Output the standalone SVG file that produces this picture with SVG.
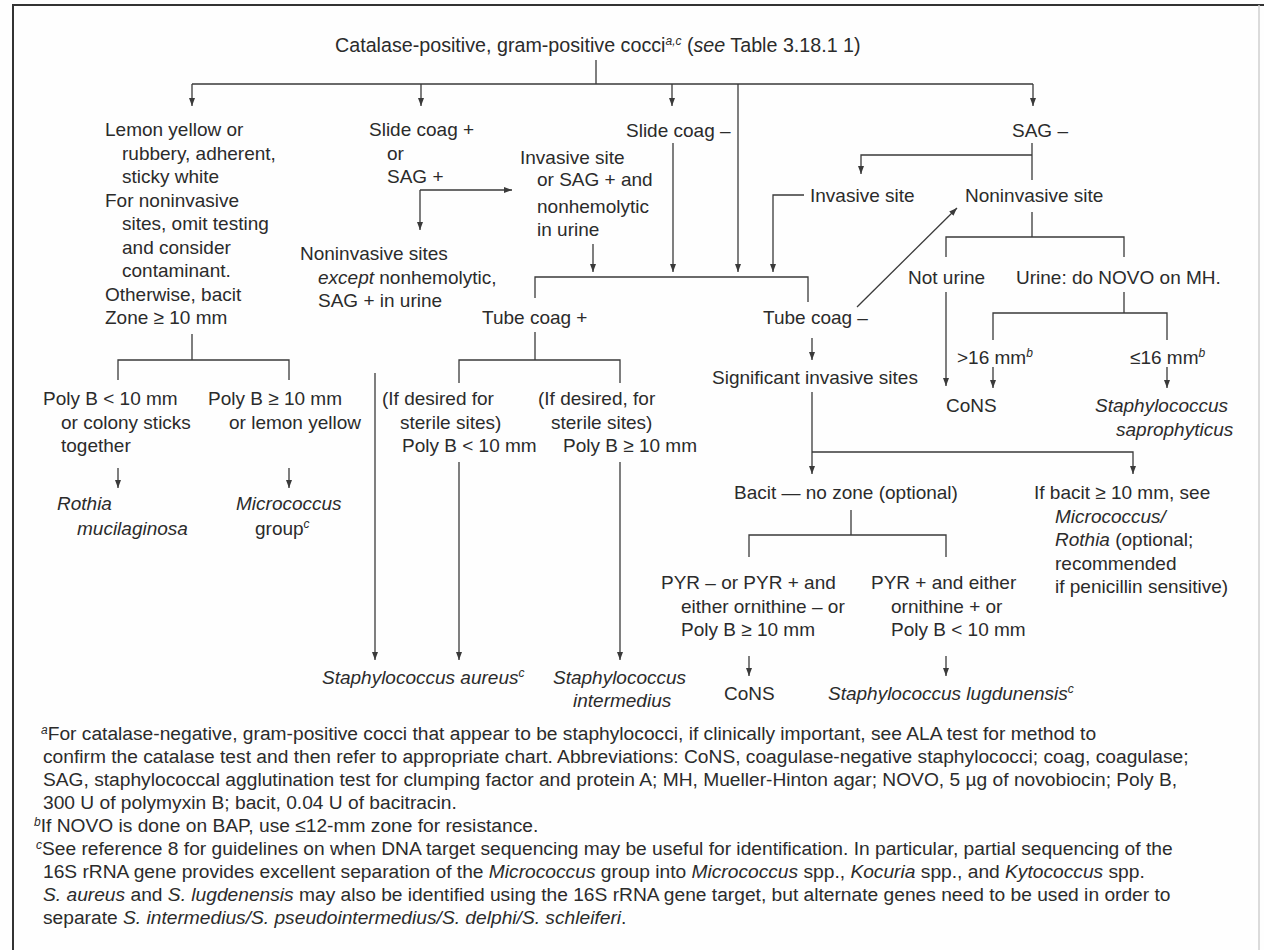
<svg xmlns="http://www.w3.org/2000/svg" width="1264" height="950" viewBox="0 0 1264 950">
<style>
text { font-family: "Liberation Sans", Arial, sans-serif; font-size: 19px; fill: #2b2b2b; }
.title { font-size: 19.7px; }
.fn { font-size: 19.2px; }
.it { font-style: italic; }
.sup { font-size: 12px; }
.c { stroke: #3a3a3a; stroke-width: 1.3; fill: none; }
.a { marker-end: url(#ah); }
.frame { stroke: #333; stroke-width: 2; fill: none; }
</style>
<defs>
<marker id="ah" viewBox="0 0 8 6" refX="8" refY="3" markerWidth="8" markerHeight="6" markerUnits="userSpaceOnUse" orient="auto">
<path d="M0,0 L8,3 L0,6 z" fill="#3a3a3a"/>
</marker>
</defs>
<rect width="1264" height="950" fill="#fefefe"/>
<path class="frame" d="M13,950 V5 H1264"/>
<path d="M1259,5 V950" stroke="#cfcfcf" stroke-width="1.5" fill="none"/>

<g id="connectors">
<path class="c" d="M596,60 V84 M192,84 H1033"/>
<path class="c a" d="M192,84 V106"/>
<path class="c a" d="M421,84 V106"/>
<path class="c a" d="M672,84 V106"/>
<path class="c a" d="M1033,84 V106"/>
<path class="c a" d="M738,84 V272"/>
<path class="c" d="M192,334 V360 M118,380 V360 H289 V380"/>
<path class="c a" d="M118,468 V488"/>
<path class="c a" d="M289,468 V488"/>
<path class="c a" d="M420,190 H512"/>
<path class="c a" d="M420,190 V230"/>
<path class="c a" d="M375,373 V660"/>
<path class="c a" d="M673,143 V272"/>
<path class="c a" d="M593,244 V272"/>
<path class="c a" d="M804,195 H773 V272"/>
<path class="c" d="M535,298 V277 H808 V302"/>
<path class="c" d="M535,332 V360 M459,383 V360 H620 V383"/>
<path class="c a" d="M459,462 V660"/>
<path class="c a" d="M620,462 V660"/>
<path class="c" d="M1032,143 V180"/>
<path class="c a" d="M1032,155 H861 V174"/>
<path class="c" d="M1032,212 V237 M946,257 V237 H1124 V257"/>
<path class="c a" d="M946,292 V386"/>
<path class="c" d="M1124,292 V313 M993,340 V313 H1167 V340"/>
<path class="c a" d="M993,367 V388"/>
<path class="c a" d="M1167,367 V388"/>
<path class="c a" d="M857,307 L957,208"/>
<path class="c a" d="M812,338 V360"/>
<path class="c a" d="M812,392 V474"/>
<path class="c a" d="M812,452 H1133 V474"/>
<path class="c" d="M851,510 V535 M749,557 V535 H946 V557"/>
<path class="c a" d="M749,656 V676"/>
<path class="c a" d="M946,656 V676"/>
</g>

<g id="n-root">
<text class="title" x="335" y="52">Catalase-positive, gram-positive cocci<tspan class="sup it" dy="-7">a,c</tspan><tspan dy="7"> (</tspan><tspan class="it">see</tspan> Table 3.18.1 1)</text>
</g>

<g id="n-lemon">
<text x="105" y="136">Lemon yellow or</text>
<text x="122" y="159.5">rubbery, adherent,</text>
<text x="122" y="183">sticky white</text>
<text x="105" y="206.5">For noninvasive</text>
<text x="122" y="230">sites, omit testing</text>
<text x="122" y="253.5">and consider</text>
<text x="122" y="277">contaminant.</text>
<text x="105" y="300.5">Otherwise, bacit</text>
<text x="105" y="324">Zone ≥ 10 mm</text>
</g>
<g id="n-polyb-lt">
<text x="43" y="405">Poly B &lt; 10 mm</text>
<text x="61" y="428.5">or colony sticks</text>
<text x="61" y="452">together</text>
</g>
<g id="n-polyb-ge">
<text x="208" y="405">Poly B ≥ 10 mm</text>
<text x="229" y="428.5">or lemon yellow</text>
</g>
<g id="n-rothia">
<text class="it" x="57" y="510">Rothia</text>
<text class="it" x="77" y="535">mucilaginosa</text>
</g>
<g id="n-micrococcus">
<text class="it" x="236" y="510">Micrococcus</text>
<text x="255" y="535">group<tspan class="sup it" dy="-7">c</tspan></text>
</g>

<g id="n-slide-pos">
<text x="369" y="136">Slide coag +</text>
<text x="387" y="159.5">or</text>
<text x="387" y="183">SAG +</text>
</g>
<g id="n-noninv-sites">
<text x="300" y="260">Noninvasive sites</text>
<text x="318" y="284"><tspan class="it">except</tspan> nonhemolytic,</text>
<text x="318" y="307">SAG + in urine</text>
</g>
<g id="n-invasive-mid">
<text x="520" y="164">Invasive site</text>
<text x="537" y="186">or SAG + and</text>
<text x="537" y="213">nonhemolytic</text>
<text x="537" y="236">in urine</text>
</g>
<g id="n-slide-neg">
<text x="626" y="137">Slide coag –</text>
</g>
<g id="n-tube-pos">
<text x="482" y="324">Tube coag +</text>
</g>
<g id="n-desired-lt">
<text x="382" y="405">(If desired for</text>
<text x="400" y="428.5">sterile sites)</text>
<text x="402" y="452">Poly B &lt; 10 mm</text>
</g>
<g id="n-desired-ge">
<text x="538" y="405">(If desired, for</text>
<text x="551" y="428.5">sterile sites)</text>
<text x="563" y="452">Poly B ≥ 10 mm</text>
</g>
<g id="n-aureus">
<text class="it" x="322" y="684">Staphylococcus aureus<tspan class="sup" dy="-7">c</tspan></text>
</g>
<g id="n-intermedius">
<text class="it" x="553" y="684">Staphylococcus</text>
<text class="it" x="573" y="707">intermedius</text>
</g>

<g id="n-tube-neg">
<text x="763" y="324">Tube coag –</text>
</g>
<g id="n-sig-invasive">
<text x="712" y="384">Significant invasive sites</text>
</g>
<g id="n-bacit-nozone">
<text x="734" y="499">Bacit — no zone (optional)</text>
</g>
<g id="n-pyr-neg">
<text x="661" y="589">PYR – or PYR + and</text>
<text x="681" y="612.5">either ornithine – or</text>
<text x="681" y="636">Poly B ≥ 10 mm</text>
</g>
<g id="n-pyr-pos">
<text x="871" y="589">PYR + and either</text>
<text x="891" y="612.5">ornithine + or</text>
<text x="891" y="636">Poly B &lt; 10 mm</text>
</g>
<g id="n-cons-bottom">
<text x="724" y="700">CoNS</text>
</g>
<g id="n-lugdunensis">
<text class="it" x="828" y="700">Staphylococcus lugdunensis<tspan class="sup" dy="-7">c</tspan></text>
</g>
<g id="n-bacit-ge">
<text x="1034" y="499">If bacit ≥ 10 mm, see</text>
<text class="it" x="1055" y="522.5">Micrococcus/</text>
<text x="1055" y="546"><tspan class="it">Rothia</tspan> (optional;</text>
<text x="1055" y="569.5">recommended</text>
<text x="1055" y="593">if penicillin sensitive)</text>
</g>

<g id="n-sag-neg">
<text x="1012" y="137">SAG –</text>
</g>
<g id="n-invasive-right">
<text x="810" y="202">Invasive site</text>
</g>
<g id="n-noninv-site">
<text x="965" y="202">Noninvasive site</text>
</g>
<g id="n-not-urine">
<text x="908" y="284">Not urine</text>
</g>
<g id="n-urine">
<text x="1016" y="284">Urine: do NOVO on MH.</text>
</g>
<g id="n-gt16">
<text x="957" y="364">&gt;16 mm<tspan class="sup it" dy="-7">b</tspan></text>
</g>
<g id="n-le16">
<text x="1130" y="364">≤16 mm<tspan class="sup it" dy="-7">b</tspan></text>
</g>
<g id="n-cons-right">
<text x="946" y="412">CoNS</text>
</g>
<g id="n-saprophyticus">
<text class="it" x="1095" y="412">Staphylococcus</text>
<text class="it" x="1116" y="436">saprophyticus</text>
</g>

<g id="footnotes">
<text class="fn" x="41" y="740"><tspan class="sup it" dy="-6">a</tspan><tspan dy="6">For catalase-negative, gram-positive cocci that appear to be staphylococci, if clinically important, see ALA test for method to</tspan></text>
<text class="fn" x="43" y="763">confirm the catalase test and then refer to appropriate chart. Abbreviations: CoNS, coagulase-negative staphylococci; coag, coagulase;</text>
<text class="fn" x="43" y="786">SAG, staphylococcal agglutination test for clumping factor and protein A; MH, Mueller-Hinton agar; NOVO, 5 µg of novobiocin; Poly B,</text>
<text class="fn" x="43" y="809">300 U of polymyxin B; bacit, 0.04 U of bacitracin.</text>
<text class="fn" x="34" y="832"><tspan class="sup it" dy="-6">b</tspan><tspan dy="6">If NOVO is done on BAP, use ≤12-mm zone for resistance.</tspan></text>
<text class="fn" x="36" y="855"><tspan class="sup it" dy="-6">c</tspan><tspan dy="6">See reference 8 for guidelines on when DNA target sequencing may be useful for identification. In particular, partial sequencing of the</tspan></text>
<text class="fn" x="43" y="878">16S rRNA gene provides excellent separation of the <tspan class="it">Micrococcus</tspan> group into <tspan class="it">Micrococcus</tspan> spp., <tspan class="it">Kocuria</tspan> spp., and  <tspan class="it">Kytococcus</tspan> spp.</text>
<text class="fn" x="43" y="901"><tspan class="it">S. aureus</tspan> and <tspan class="it">S. lugdenensis</tspan> may also be identified using the 16S rRNA gene target, but alternate genes need to be used in order to</text>
<text class="fn" x="43" y="924">separate <tspan class="it">S. intermedius/S. pseudointermedius/S. delphi/S. schleiferi</tspan>.</text>
</g>
</svg>
